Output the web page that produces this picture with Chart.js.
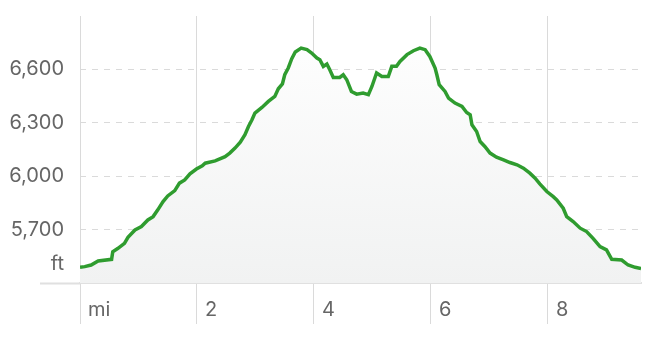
<!DOCTYPE html>
<html>
<head>
<meta charset="utf-8">
<script src="https://cdn.jsdelivr.net/npm/chart.js@4/dist/chart.umd.min.js"></script>
<style>
  html, body { margin: 0; padding: 0; background: #ffffff; }
  #wrap { width: 662px; height: 356px; }
</style>
</head>
<body>
<div id="wrap"><canvas id="c" width="662" height="356"></canvas></div>
<script>
// Distance along the trail (miles)
const distanceMi = [
  0.00, 0.08, 0.19, 0.31, 0.54, 0.56, 0.65, 0.76, 0.82, 0.94,
  1.05, 1.16, 1.25, 1.33, 1.42, 1.50, 1.62, 1.70, 1.79, 1.88,
  1.99, 2.09, 2.14, 2.31, 2.48, 2.56, 2.65, 2.74, 2.82, 2.88,
  2.94, 2.99, 3.11, 3.22, 3.33, 3.39, 3.46, 3.50, 3.56, 3.62,
  3.68, 3.78, 3.88, 3.96, 4.05, 4.10, 4.16, 4.22, 4.27, 4.33,
  4.44, 4.50, 4.56, 4.64, 4.73, 4.84, 4.93, 4.99, 5.07, 5.16,
  5.27, 5.33, 5.41, 5.47, 5.59, 5.70, 5.81, 5.90, 5.98, 6.07,
  6.10, 6.14, 6.24, 6.30, 6.41, 6.53, 6.61, 6.67, 6.70, 6.78,
  6.84, 6.92, 7.01, 7.12, 7.24, 7.35, 7.47, 7.58, 7.69, 7.78,
  7.86, 7.98, 8.09, 8.15, 8.26, 8.32, 8.43, 8.55, 8.66, 8.77,
  8.89, 9.00, 9.09, 9.26, 9.37, 9.49, 9.59
];
// Elevation (feet)
const elevationFt = [
  5488, 5492, 5501, 5524, 5533, 5576, 5595, 5623, 5657, 5698,
  5717, 5754, 5773, 5811, 5857, 5889, 5919, 5961, 5979, 6013,
  6040, 6058, 6073, 6086, 6110, 6130, 6158, 6191, 6233, 6279,
  6317, 6355, 6386, 6420, 6448, 6491, 6518, 6570, 6608, 6660,
  6698, 6720, 6711, 6692, 6664, 6654, 6617, 6630, 6598, 6555,
  6555, 6570, 6542, 6476, 6461, 6467, 6458, 6504, 6580, 6560,
  6560, 6617, 6617, 6645, 6683, 6705, 6720, 6711, 6673, 6608,
  6570, 6514, 6476, 6439, 6411, 6392, 6358, 6345, 6289, 6251,
  6195, 6167, 6130, 6107, 6092, 6077, 6064, 6045, 6017, 5989,
  5957, 5914, 5885, 5867, 5820, 5773, 5745, 5708, 5689, 5651,
  5604, 5586, 5533, 5529, 5501, 5488, 5482
];
// Axis settings / tick labels
const xTickValues = [0, 2, 4, 6, 8];
const xTickLabels = ['mi', '2', '4', '6', '8'];
const yTickValues = [5400, 5700, 6000, 6300, 6600, 6900];
const yTickLabels = [['ft', '', ''], '5,700', '6,000', '6,300', '6,600', ''];
const xMin = 0, xMax = 9.59;
const yMin = 5400, yMax = 6900;

const points = distanceMi.map((d, i) => ({ x: d, y: elevationFt[i] }));

const GRID = '#dadada';
const LABEL = '#666666';
const FONT = { family: 'Inter, "Open Sans", sans-serif', size: 20 };

new Chart(document.getElementById('c'), {
  type: 'line',
  data: {
    datasets: [{
      data: points,
      borderColor: '#2f9c2f',
      borderWidth: 3.5,
      pointRadius: 0,
      tension: 0,
      fill: 'start',
      backgroundColor: (ctx) => {
        const chart = ctx.chart;
        const area = chart.chartArea;
        if (!area) return 'rgba(0,0,0,0)';
        const g = chart.ctx.createLinearGradient(0, area.top, 0, area.bottom);
        g.addColorStop(0, '#ffffff');
        g.addColorStop(1, '#f1f2f2');
        return g;
      }
    }]
  },
  options: {
    responsive: false,
    animation: false,
    devicePixelRatio: 1,
    layout: { padding: { top: 16, right: 21, bottom: 0, left: 0 } },
    plugins: { legend: { display: false }, tooltip: { enabled: false } },
    scales: {
      x: {
        type: 'linear',
        min: xMin,
        max: xMax,
        afterBuildTicks: (scale) => { scale.ticks = xTickValues.map(v => ({ value: v })); },
        afterFit: (scale) => { scale.height = 73; },
        ticks: {
          autoSkip: false,
          includeBounds: false,
          stepSize: 2,
          align: 'start',
          labelOffset: 8,
          padding: -26,
          color: LABEL,
          font: FONT,
          maxRotation: 0,
          callback: (v) => { const i = xTickValues.indexOf(v); return i >= 0 ? xTickLabels[i] : ''; }
        },
        grid: {
          color: GRID,
          lineWidth: 1,
          drawTicks: true,
          tickLength: 41,
          tickColor: GRID
        },
        border: { display: true, color: '#e0e0e0', width: 2 }
      },
      y: {
        type: 'linear',
        min: yMin,
        max: yMax,
        afterBuildTicks: (scale) => { scale.ticks = yTickValues.map(v => ({ value: v })); },
        afterFit: (scale) => { scale.width = 80; },
        ticks: {
          autoSkip: false,
          stepSize: 300,
          padding: -24,
          color: LABEL,
          font: Object.assign({}, FONT, { lineHeight: 0.93 }),
          callback: (v) => { const i = yTickValues.indexOf(v); return i >= 0 ? yTickLabels[i] : ''; }
        },
        grid: {
          color: (ctx) => (ctx.tick && (ctx.tick.value === yMin || ctx.tick.value === yMax)) ? 'rgba(0,0,0,0)' : GRID,
          lineWidth: 1,
          drawTicks: true,
          tickLength: 40,
          tickWidth: 2,
          tickColor: (ctx) => (ctx.tick && ctx.tick.value === yMin) ? '#e0e0e0' : 'rgba(0,0,0,0)'
        },
        border: { display: false, dash: [6, 6] }
      }
    }
  }
});
</script>
</body>
</html>
